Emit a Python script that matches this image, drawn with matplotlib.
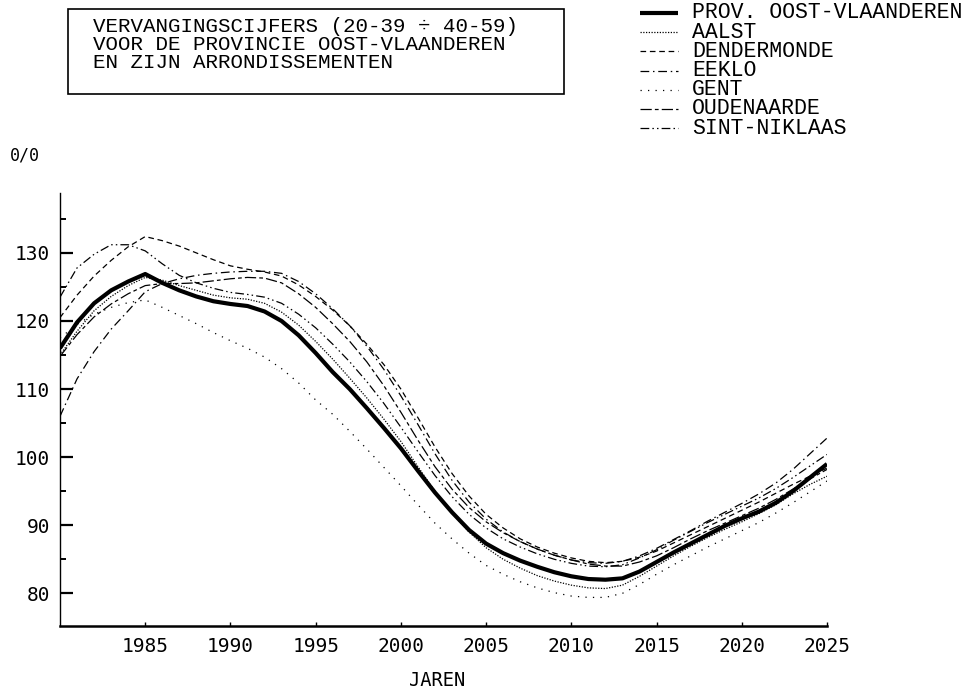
import matplotlib
matplotlib.use("Agg")
import matplotlib.pyplot as plt
from matplotlib.lines import Line2D
from matplotlib.patches import Rectangle

# ---------------- data ----------------
years = list(range(1980, 2026))

prov = [116.0, 119.8, 122.6, 124.5, 125.8, 126.9, 125.6, 124.5, 123.6, 122.9,
        122.5, 122.2, 121.4, 120.0, 117.9, 115.3, 112.5, 110.0, 107.2, 104.3,
        101.3, 98.0, 94.8, 91.9, 89.3, 87.3, 85.9, 84.8, 83.9, 83.1,
        82.5, 82.1, 82.0, 82.2, 83.2, 84.6, 86.0, 87.3, 88.6, 89.9,
        91.0, 92.0, 93.3, 95.0, 97.0, 99.0]

aalst = [115.0, 118.5, 121.5, 123.6, 125.2, 126.4, 126.0, 125.2, 124.5, 123.8,
         123.4, 123.2, 122.6, 121.3, 119.4, 117.0, 114.4, 111.6, 108.7, 105.6,
         102.3, 98.6, 95.0, 91.8, 89.0, 86.7, 85.0, 83.7, 82.6, 81.8,
         81.2, 80.8, 80.7, 81.2, 82.5, 84.0, 85.5, 86.9, 88.2, 89.4,
         90.5, 91.7, 93.0, 94.6, 96.0, 97.2]

dendermonde = [120.5, 123.8, 126.6, 128.9, 130.9, 132.4, 131.8, 131.0, 130.0, 129.0,
               128.1, 127.6, 127.2, 126.6, 125.3, 123.6, 121.6, 119.3, 116.6, 113.6,
               110.0, 105.8, 101.5, 97.6, 94.3, 91.6, 89.6, 88.0, 86.8, 85.9,
               85.2, 84.7, 84.5, 84.7, 85.3, 86.2, 87.4, 88.6, 89.8, 91.0,
               92.2, 93.4, 94.7, 96.0, 97.2, 98.4]

eeklo = [106.0, 111.5, 115.5, 118.8, 121.5, 124.3, 125.5, 126.2, 126.7, 127.0,
         127.2, 127.3, 127.3, 127.0, 125.8, 124.0, 121.8, 119.3, 116.3, 112.9,
         109.0, 104.8, 100.5, 96.6, 93.4, 90.9, 89.0, 87.6, 86.5, 85.6,
         84.9, 84.5, 84.4, 84.7, 85.5, 86.6, 87.9, 89.2, 90.6, 91.9,
         93.2, 94.6, 96.2, 98.2, 100.5, 102.8]

gent = [117.5, 119.5, 121.0, 122.0, 122.7, 123.1, 122.0, 120.8, 119.6, 118.3,
        117.1, 116.0, 114.7, 113.0, 110.9, 108.4, 106.3, 103.8, 101.2, 98.5,
        95.8, 93.0, 90.3, 88.0, 85.9, 84.1, 82.8, 81.7, 80.8, 80.1,
        79.6, 79.4, 79.4, 80.0, 81.3, 82.8, 84.2, 85.5, 86.8, 88.0,
        89.2, 90.4, 91.8, 93.3, 94.9, 96.5]

oudenaarde = [114.8, 118.0, 120.6, 122.5, 124.0, 125.2, 125.5, 125.5, 125.6, 125.9,
              126.2, 126.4, 126.3, 125.6, 124.0, 122.0, 119.6, 117.0, 114.0, 110.5,
              106.6, 102.5, 98.6, 95.3, 92.6, 90.5, 88.9, 87.6, 86.5, 85.6,
              84.9, 84.3, 84.0, 84.0, 84.6, 85.5, 86.7, 88.0, 89.2, 90.3,
              91.4, 92.5, 93.8, 95.3, 96.8, 98.2]

sintniklaas = [123.5, 127.8, 129.8, 131.2, 131.2, 130.3, 128.4, 126.7, 125.6, 124.8,
               124.2, 123.9, 123.5, 122.6, 121.0, 119.0, 116.6, 114.0, 111.1, 107.9,
               104.4, 100.8, 97.3, 94.2, 91.6, 89.6, 88.0, 86.8, 85.8, 85.0,
               84.4, 84.0, 83.9, 84.2, 85.2, 86.4, 87.8, 89.1, 90.4, 91.6,
               92.8, 94.0, 95.4, 97.0, 98.7, 100.4]

labels = ["PROV. OOST-VLAANDEREN", "AALST", "DENDERMONDE", "EEKLO",
          "GENT", "OUDENAARDE", "SINT-NIKLAAS"]
series = [prov, aalst, dendermonde, eeklo, gent, oudenaarde, sintniklaas]

xtick_vals = [1985, 1990, 1995, 2000, 2005, 2010, 2015, 2020, 2025]
ytick_vals = [80, 90, 100, 110, 120, 130]

title_lines = ["VERVANGINGSCIJFERS (20-39 \u00f7 40-59)",
               "VOOR DE PROVINCIE OOST-VLAANDEREN",
               "EN ZIJN ARRONDISSEMENTEN"]

# ---------------- styles ----------------
styles = [
    dict(lw=3.0, ls="-"),
    dict(lw=0.9, ls=(0, (1.0, 1.2))),
    dict(lw=0.9, ls=(0, (4.5, 3.0))),
    dict(lw=0.9, ls=(0, (7, 3, 1.2, 3))),
    dict(lw=0.9, ls=(0, (1.0, 5.0))),
    dict(lw=0.9, ls=(0, (9, 2.5, 3, 2.5))),
    dict(lw=0.9, ls=(0, (7, 2.5, 1.2, 2.5, 1.2, 2.5))),
]

W, H = 974, 697
fig = plt.figure(figsize=(W / 100, H / 100), dpi=100)
fig.patch.set_facecolor("white")

def fx(px):
    return px / W

def fy(py):
    return 1 - py / H

ax = fig.add_axes([fx(60), fy(626), (827 - 60) / W, (626 - 193) / H])
for s, st in zip(series, styles):
    ax.plot(years, s, color="black", solid_capstyle="butt", **st)

ax.set_xlim(1980, 2025)
ax.set_ylim(75.2, 138.8)
for sp in ["top", "right"]:
    ax.spines[sp].set_visible(False)
ax.spines["left"].set_linewidth(1.0)
ax.spines["bottom"].set_linewidth(1.8)

tickfont = "DejaVu Sans Mono"
ax.set_xticks(xtick_vals)
ax.set_xticks([1990, 2000, 2010, 2020, 2025], minor=True)
ax.set_yticks(ytick_vals)
ax.set_yticks([85, 95, 105, 115, 125, 135], minor=True)
ax.tick_params(axis="x", which="major", direction="in", length=3, width=1.0,
               pad=8, labelsize=14)
ax.tick_params(axis="x", which="minor", direction="in", length=9, width=1.0)
ax.tick_params(axis="y", which="major", direction="in", length=9, width=1.6,
               pad=7, labelsize=14)
ax.tick_params(axis="y", which="minor", direction="in", length=4, width=1.4)
for lab in ax.get_xticklabels() + ax.get_yticklabels():
    lab.set_family(tickfont)

fig.text(fx(437), fy(680), "JAREN", family=tickfont, fontsize=13.5,
         ha="center", va="center")
fig.text(fx(10), fy(156), "0/0", family=tickfont, fontsize=12,
         ha="left", va="center")

# title box
fig.patches.append(Rectangle((fx(68), fy(94)), (564 - 68) / W, (94 - 9) / H,
                             transform=fig.transFigure, fill=False,
                             edgecolor="black", lw=1.2))
mono = "Liberation Mono"
for i, t in enumerate(title_lines):
    fig.text(fx(93), fy(32 + 18 * i), t, family=mono, fontsize=15,
             ha="left", va="baseline")

# legend
for i, (lab, st) in enumerate(zip(labels, styles)):
    yc = 13 + 19.2 * i
    fig.add_artist(Line2D([fx(640), fx(678)], [fy(yc), fy(yc)],
                          transform=fig.transFigure, color="black",
                          solid_capstyle="butt", **st))
    fig.text(fx(692), fy(yc), lab, family=mono, fontsize=15.5,
             ha="left", va="center")

fig.savefig("out.png", dpi=100, facecolor="white")
